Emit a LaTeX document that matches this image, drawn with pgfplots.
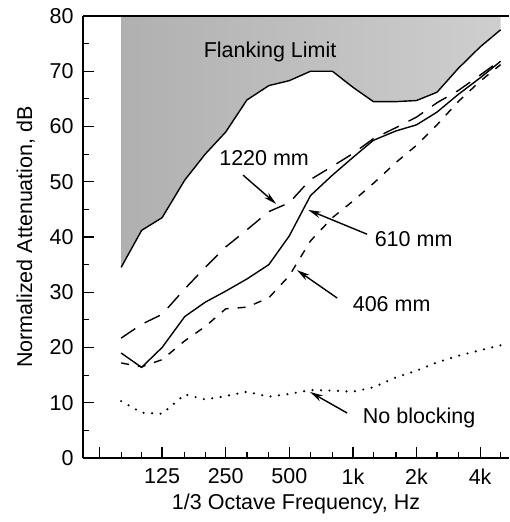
\documentclass[border=0pt]{standalone}
\usepackage{pgfplots}
\pgfplotsset{compat=1.18}
\usepackage{fontspec}
\setmainfont{Liberation Sans}
\usetikzlibrary{arrows.meta}
\newcommand\lbl{\fontsize{21.5bp}{25bp}\selectfont}

% 1/3 octave values
\pgfplotstableread{
f     flank  d1220  d610  d406  none
80    34.5   21.7   19.0  17.2  10.3
100   41.2   24.2   16.4  16.5   8.2
125   43.5   26.0   20.0  17.8   8.0
160   50.3   30.6   25.6  21.2  11.5
200   55.0   34.5   28.2  23.8  10.6
250   59.0   38.2   30.2  27.0  11.2
315   64.8   41.3   32.4  27.3  12.0
400   67.4   44.6   35.0  29.0  11.1
500   68.3   46.2   40.2  33.0  11.6
630   70.0   50.4   47.5  39.3  12.3
800   70.0   52.8   51.2  43.5  12.2
1000  67.1   55.1   54.4  46.5  12.0
1250  64.5   57.8   57.5  49.7  12.8
1600  64.5   59.8   59.2  53.5  14.6
2000  64.7   61.7   60.3  56.6  15.8
2500  66.2   64.3   62.6  60.3  17.3
3150  70.5   66.5   65.8  64.5  18.5
4000  74.4   69.3   68.8  68.2  19.5
5000  77.5   72.0   71.8  71.2  20.4
}\data

\begin{document}
\begin{tikzpicture}
\begin{axis}[name=ax, scale only axis, width=426bp, height=442bp,
  xmode=log, xmin=52.8, xmax=5480, ymin=0, ymax=80,
  axis lines*=left, axis line style={-, line width=1.4bp},
  tick align=inside, major tick length=11bp, minor tick length=6bp,
  tick style={black, line width=1.2bp},
  xtick={63,125,250,500,1000,2000,4000}, xticklabels={,125,250,500,1k,2k,4k},
  minor xtick={80,100,160,200,315,400,630,800,1250,1600,2500,3150,5000},
  ytick={0,10,...,80}, minor ytick={5,15,...,75},
  font=\lbl, /pgf/number format/assume math mode=true,
  yticklabel style={xshift=-6bp}, xticklabel style={yshift=-7bp},
  xlabel={1/3 Octave Frequency, Hz}, ylabel={Normalized Attenuation, dB},
  xlabel style={at={(axis description cs:0.5,-0.1154)}, anchor=base},
  ylabel style={at={(axis description cs:-0.1197,0.5)}, anchor=base},
  clip=false]

% flanking limit shaded area
\addplot[draw=none, left color=black!31, right color=black!19]
  coordinates {(80,80) (80,34.5) (100,41.2) (125,43.5) (160,50.3) (200,55.0)
  (250,59.0) (315,64.8) (400,67.4) (500,68.3) (630,70.0) (800,70.0) (1000,67.1)
  (1250,64.5) (1600,64.5) (2000,64.7) (2500,66.2) (3150,70.5) (4000,74.4)
  (5000,77.5) (5000,80)} -- cycle;
\draw[line width=1.4bp] (rel axis cs:0,1) -- (rel axis cs:1,1);

\addplot[black, line width=1.4bp] table[x=f,y=flank] {\data};
\addplot[black, line width=1.4bp, dash pattern=on 17bp off 11bp] table[x=f,y=d1220] {\data};
\addplot[black, line width=1.4bp] table[x=f,y=d610] {\data};
\addplot[black, line width=1.4bp, dash pattern=on 8bp off 9bp] table[x=f,y=d406] {\data};
\addplot[black, line width=2.4bp, line cap=round, dash pattern=on 0bp off 8.5bp] table[x=f,y=none] {\data};

\node[font=\lbl, anchor=base] at (axis cs:405.6,72.4) {Flanking Limit};
\node[font=\lbl, anchor=base] at (axis cs:380,52.85) {1220 mm};
\node[font=\lbl, anchor=base] at (axis cs:1938,38.2) {610 mm};
\node[font=\lbl, anchor=base] at (axis cs:1525,26.6) {406 mm};
\node[font=\lbl, anchor=base] at (axis cs:2057,6.24) {No blocking};

\tikzset{arr/.style={line width=1.4bp, -{Stealth[length=13bp,width=6.5bp]}}}
\draw[arr] (axis cs:302,51.2) -- (axis cs:433,46.0);
\draw[arr] (axis cs:1167,40.5) -- (axis cs:614,44.9);
\draw[arr] (axis cs:842,28.96) -- (axis cs:544,34.0);
\draw[arr] (axis cs:939,8.14) -- (axis cs:627,11.95);
\end{axis}
\pgfresetboundingbox
\path ([shift={(-83bp,-64bp)}]ax.south west) rectangle ([shift={(0bp,16bp)}]ax.north east);
\end{tikzpicture}
\end{document}
